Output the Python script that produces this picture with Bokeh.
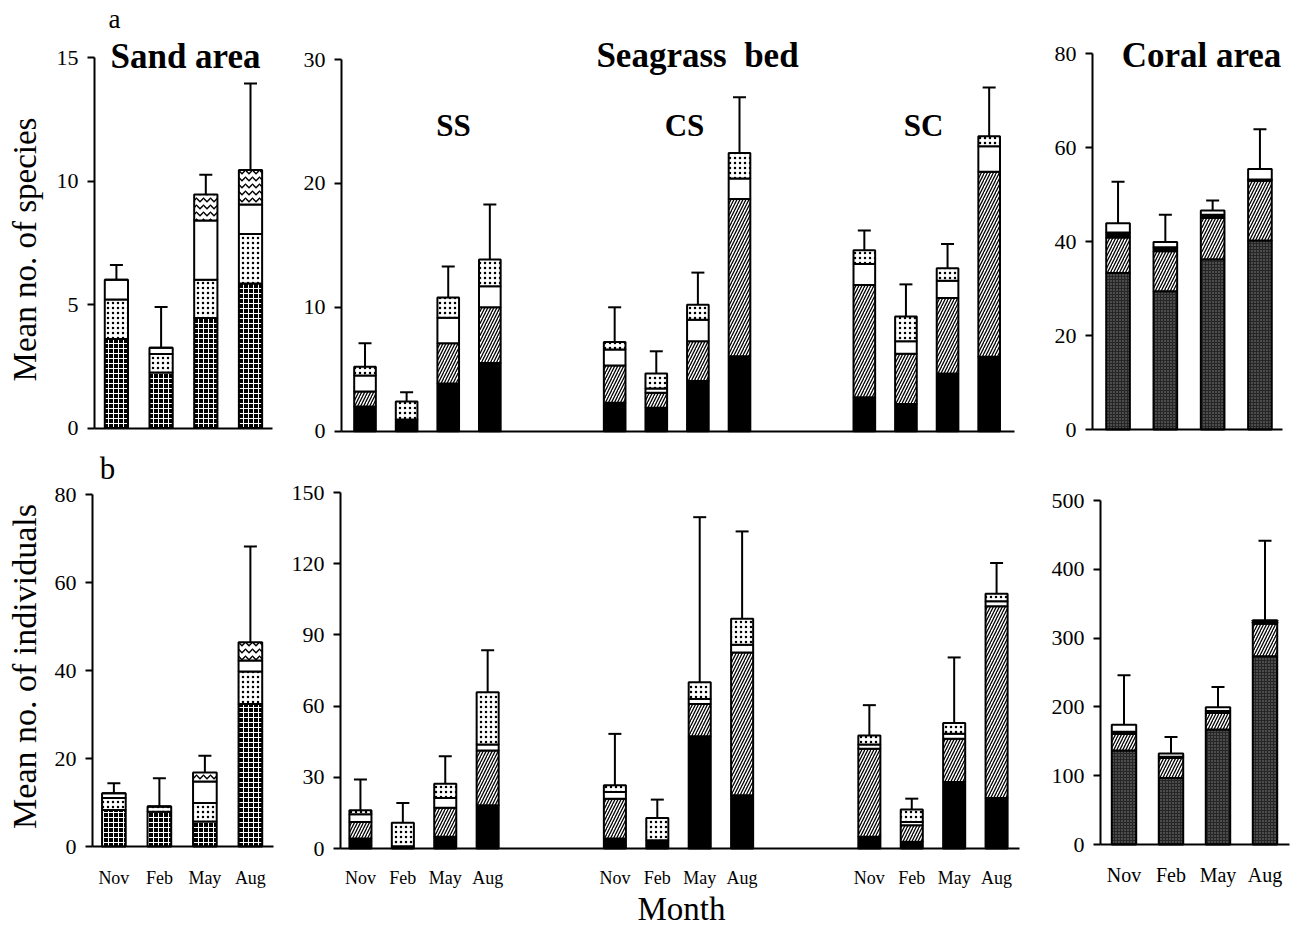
import math
from bokeh.plotting import figure
from bokeh.models import ColumnDataSource, Range1d, FixedTicker, Label, Whisker, TeeHead
from bokeh.layouts import row, column
from bokeh.embed import file_html
from bokeh.resources import INLINE

SERIF = "Liberation Serif"

months = ["Nov", "Feb", "May", "Aug"]
sites = ["SS", "CS", "SC"]

# ---------------- (a) Mean no. of species ----------------
sand_sp_grid = [3.6, 2.25, 4.45, 5.85]
sand_sp_dot = [1.6, 0.75, 1.55, 2.0]
sand_sp_white = [0.8, 0.25, 2.4, 1.2]
sand_sp_wave = [0.0, 0.0, 1.05, 1.4]
sand_sp_se = [0.6, 1.65, 0.8, 3.5]

# seagrass: SS Nov..Aug, CS Nov..Aug, SC Nov..Aug
sea_sp_black = [2.0, 0.95, 3.85, 5.5, 2.3, 1.9, 4.05, 6.05, 2.75, 2.2, 4.65, 6.0]
sea_sp_hatch = [1.2, 0.0, 3.25, 4.5, 3.0, 1.2, 3.2, 12.7, 9.05, 4.05, 6.1, 14.95]
sea_sp_white = [1.3, 0.0, 2.05, 1.7, 1.3, 0.35, 1.75, 1.65, 1.7, 1.0, 1.4, 2.05]
sea_sp_dot = [0.7, 1.45, 1.65, 2.15, 0.6, 1.2, 1.2, 2.05, 1.1, 2.0, 1.0, 0.8]
sea_sp_se = [1.9, 0.75, 2.5, 4.45, 2.8, 1.8, 2.6, 4.5, 1.6, 2.6, 1.95, 3.95]

coral_sp_stip = [33.3, 29.4, 36.2, 40.2]
coral_sp_hatch = [7.55, 8.5, 8.8, 12.7]
coral_sp_black = [1.05, 0.9, 0.7, 0.3]
coral_sp_white = [2.0, 1.1, 0.9, 2.2]
coral_sp_se = [8.8, 5.8, 2.1, 8.5]

# ---------------- (b) Mean no. of individuals ----------------
sand_in_grid = [8.3, 7.9, 5.7, 32.4]
sand_in_dot = [2.7, 1.2, 4.2, 7.4]
sand_in_white = [1.1, 0.0, 4.9, 2.5]
sand_in_wave = [0.0, 0.0, 2.0, 4.1]
sand_in_se = [2.3, 6.4, 3.8, 21.8]

sea_in_black = [4.2, 1.0, 4.9, 18.2, 4.2, 3.5, 47.3, 22.4, 4.9, 2.8, 28.0, 21.3]
sea_in_hatch = [7.0, 0.0, 12.3, 23.1, 16.8, 0.0, 13.6, 60.2, 37.1, 7.0, 18.2, 80.8]
sea_in_white = [3.2, 0.0, 4.1, 2.5, 2.8, 0.0, 2.1, 3.2, 1.8, 1.4, 2.1, 2.1]
sea_in_dot = [1.7, 9.8, 6.0, 22.0, 2.8, 9.4, 7.0, 11.0, 3.8, 5.2, 4.6, 3.1]
sea_in_se = [13.0, 8.4, 11.6, 17.7, 21.7, 7.7, 69.6, 36.8, 12.8, 4.6, 27.6, 13.0]

coral_in_stip = [136.5, 96.8, 167.0, 273.5]
coral_in_hatch = [24.2, 29.0, 24.2, 47.5]
coral_in_black = [3.3, 1.7, 2.8, 2.0]
coral_in_white = [10.2, 4.6, 5.4, 2.8]
coral_in_se = [71.7, 24.2, 29.6, 115.6]

sand_ticks_a = [0, 5, 10, 15]
sea_ticks_a = [0, 10, 20, 30]
coral_ticks_a = [0, 20, 40, 60, 80]
sand_ticks_b = [0, 20, 40, 60, 80]
sea_ticks_b = [0, 30, 60, 90, 120, 150]
coral_ticks_b = [0, 100, 200, 300, 400, 500]

# ---------------- styles ----------------
STY = {
    "grid": dict(fill_color="black", hatch_pattern="cross", hatch_color="white", hatch_scale=5, hatch_weight=1),
    "dot": dict(fill_color="white", hatch_pattern="dot", hatch_color="black", hatch_scale=5, hatch_weight=1.2),
    "white": dict(fill_color="white"),
    "wave": dict(fill_color="white", hatch_pattern="horizontal_wave", hatch_color="black", hatch_scale=7, hatch_weight=1.5),
    "black": dict(fill_color="black"),
    "hatch": dict(fill_color="white", hatch_pattern="right_diagonal_line", hatch_color="black", hatch_scale=6, hatch_weight=1.3),
    "stip": dict(fill_color="#262626", hatch_pattern="dot", hatch_color="#858585", hatch_scale=3, hatch_weight=0.8),
}

month_pos = list(range(len(months)))
sea_pos = [s * 6 + m for s in range(len(sites)) for m in range(len(months))]
sea_labels = months * len(sites)

GEOM = {}


def make_fig(g, yticks, xticks, xlabels, label_size, xstand):
    cx0, cx1, cy0, cy1 = g["box"]
    ux = g["unit"]
    ys = (g["zero"] - g["top"]) / g["ymax"]
    xr = (g["xl"] - (g["axis"] - cx0) / ux, g["xl"] + (cx1 - g["axis"]) / ux)
    yr = (-(cy1 - g["zero"]) / ys, (g["zero"] - cy0) / ys)
    p = figure(width=cx1 - cx0, height=cy1 - cy0,
               min_border_left=0, min_border_right=0, min_border_top=0, min_border_bottom=0,
               x_range=Range1d(*xr), y_range=Range1d(*yr),
               output_backend="svg", toolbar_location=None, title=None)
    p.outline_line_color = None
    p.xgrid.visible = False
    p.ygrid.visible = False
    p.background_fill_color = "white"
    p.border_fill_color = "white"
    ya = p.yaxis[0]
    ya.fixed_location = g["xl"]
    ya.bounds = (0, g["ymax"])
    ya.ticker = FixedTicker(ticks=yticks)
    ya.minor_tick_line_color = None
    ya.major_tick_out = 7
    ya.major_tick_in = 0
    ya.major_tick_line_width = 2
    ya.axis_line_width = 2
    ya.major_label_text_font = SERIF
    ya.major_label_text_font_size = "22px"
    ya.major_label_text_color = "black"
    ya.major_label_standoff = 9
    xa = p.xaxis[0]
    xa.fixed_location = 0
    xa.bounds = (g["xl"], g["xr"])
    xa.ticker = FixedTicker(ticks=xticks)
    xa.minor_tick_line_color = None
    xa.major_tick_line_color = None
    xa.major_tick_out = 0
    xa.major_tick_in = 0
    xa.axis_line_width = 2
    xa.major_label_text_font = SERIF
    xa.major_label_text_font_size = label_size
    xa.major_label_text_color = "black"
    xa.major_label_standoff = xstand
    xa.major_label_overrides = {int(t): lab for t, lab in zip(xticks, xlabels)}
    GEOM[p.id] = (g, ys)
    return p


def draw_bars(p, x, layers, se, width):
    data = {"x": x}
    bottom = [0.0] * len(x)
    for i, (name, vals) in enumerate(layers):
        top = [b + v for b, v in zip(bottom, vals)]
        data["b%d" % i] = list(bottom)
        data["t%d" % i] = top
        bottom = top
    data["total"] = bottom
    data["upper"] = [t + e for t, e in zip(bottom, se)]
    src = ColumnDataSource(data)
    for i, (name, vals) in enumerate(layers):
        p.vbar(x="x", width=width, bottom="b%d" % i, top="t%d" % i, source=src,
               line_color="black", line_width=2, **STY[name])
    w = Whisker(source=src, base="x", lower="total", upper="upper",
                line_color="black", line_width=2, lower_head=None,
                upper_head=TeeHead(size=13, line_width=2, line_color="black"))
    p.add_layout(w)


def pos(p, px, py):
    g, ys = GEOM[p.id]
    x = g["xl"] + (px - g["axis"]) / g["unit"]
    y = (g["zero"] - py) / ys
    return x, y


def text(p, s, px, py, size, bold=False, align="center", angle=0.0):
    x, y = pos(p, px, py)
    p.add_layout(Label(x=x, y=y, text=s, text_font=SERIF, text_font_size=size,
                       text_font_style="bold" if bold else "normal", text_color="black",
                       text_align=align, text_baseline="middle", angle=angle))


# ---------------- geometry (page px; canvas origin at page (1,1)) ----------------
R1 = (1, 445)
R2 = (445, 929)
g_sand_a = dict(box=(1, 283) + R1, axis=95, xl=-0.49, xr=3.49, unit=44.7, zero=428.5, top=58, ymax=15)
g_sea_a = dict(box=(283, 1035) + R1, axis=342, xl=-0.565, xr=15.61, unit=41.61, zero=431.7, top=60, ymax=30)
g_coral_a = dict(box=(1035, 1292) + R1, axis=1093, xl=-0.54, xr=3.48, unit=47.3, zero=430, top=54, ymax=80)
g_sand_b = dict(box=(1, 284) + R2, axis=93, xl=-0.47, xr=3.5, unit=45.5, zero=847, top=495, ymax=80)
g_sea_b = dict(box=(284, 1040) + R2, axis=341, xl=-0.47, xr=15.54, unit=42.41, zero=849, top=493, ymax=150)
g_coral_b = dict(box=(1040, 1292) + R2, axis=1101, xl=-0.5, xr=3.52, unit=47.0, zero=845, top=501, ymax=500)

sand_a = make_fig(g_sand_a, sand_ticks_a, [], [], "18px", 20)
sea_a = make_fig(g_sea_a, sea_ticks_a, [], [], "18px", 19)
coral_a = make_fig(g_coral_a, coral_ticks_a, [], [], "20px", 19)
sand_b = make_fig(g_sand_b, sand_ticks_b, month_pos, months, "18px", 21)
sea_b = make_fig(g_sea_b, sea_ticks_b, sea_pos, sea_labels, "18px", 19)
coral_b = make_fig(g_coral_b, coral_ticks_b, month_pos, months, "20px", 19)

draw_bars(sand_a, month_pos, [("grid", sand_sp_grid), ("dot", sand_sp_dot), ("white", sand_sp_white), ("wave", sand_sp_wave)], sand_sp_se, 0.52)
draw_bars(sea_a, sea_pos, [("black", sea_sp_black), ("hatch", sea_sp_hatch), ("white", sea_sp_white), ("dot", sea_sp_dot)], sea_sp_se, 0.52)
draw_bars(coral_a, month_pos, [("stip", coral_sp_stip), ("hatch", coral_sp_hatch), ("black", coral_sp_black), ("white", coral_sp_white)], coral_sp_se, 0.5)
draw_bars(sand_b, month_pos, [("grid", sand_in_grid), ("dot", sand_in_dot), ("white", sand_in_white), ("wave", sand_in_wave)], sand_in_se, 0.52)
draw_bars(sea_b, sea_pos, [("black", sea_in_black), ("hatch", sea_in_hatch), ("white", sea_in_white), ("dot", sea_in_dot)], sea_in_se, 0.52)
draw_bars(coral_b, month_pos, [("stip", coral_in_stip), ("hatch", coral_in_hatch), ("black", coral_in_black), ("white", coral_in_white)], coral_in_se, 0.52)

# ---------------- texts (visual centres, page px) ----------------
text(sand_a, "a", 115, 19, "27px")
text(sand_a, "Sand area", 186, 57, "35px", bold=True)
text(sand_a, "Mean no. of species", 25, 250, "33px", angle=math.pi / 2)
text(sea_a, "Seagrass\u00a0 bed", 698, 56, "35px", bold=True)
text(sea_a, "SS", 454, 126, "31px", bold=True)
text(sea_a, "CS", 685, 126, "31px", bold=True)
text(sea_a, "SC", 924, 126, "31px", bold=True)
text(coral_a, "Coral area", 1202, 56, "35px", bold=True)

text(sand_b, "b", 108, 469, "31px")
text(sand_b, "Mean no. of individuals", 25, 667, "34px", angle=math.pi / 2)
text(sea_b, "Month", 682, 909, "33px")

layout = column(row(sand_a, sea_a, coral_a), row(sand_b, sea_b, coral_b))

open("out.html", "w").write(file_html(layout, INLINE))
